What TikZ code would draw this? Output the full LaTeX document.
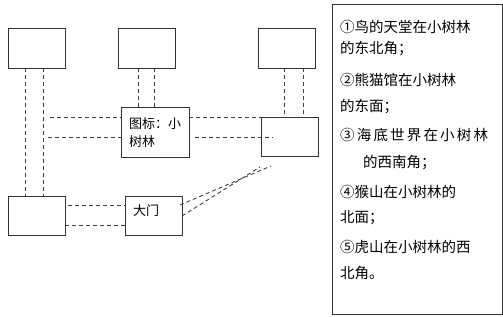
\documentclass[tikz,border=0pt]{standalone}
\usepackage{fontspec}
\newfontfamily\cjk{Noto Sans CJK SC}
\usetikzlibrary{calc}
\begin{document}
\begin{tikzpicture}[x=1pt,y=-1pt,
  box/.style={draw=black!80,line width=0.9pt,minimum width=57pt,minimum height=39pt,inner sep=0pt,outer sep=0pt},
  dline/.style={draw=black!75,line width=0.9pt,dash pattern=on 4pt off 3pt},
  txt/.style={font=\cjk\fontsize{14.5}{16}\selectfont,anchor=west,inner sep=0pt},
  btxt/.style={font=\cjk\fontsize{13}{16}\selectfont,anchor=west,inner sep=0pt}]
\useasboundingbox (0,0) rectangle (503,316);
% boxes
\node[box,minimum height=40pt] (tl) at (36.5,48) {};
\node[box,minimum height=40pt] (tm) at (146.5,48) {};
\node[box,minimum height=40pt] (tr) at (286.5,48) {};
\node[box,minimum width=68pt,minimum height=50pt] (c) at (155,132) {};
\node[box] (rm) at (289.5,136.5) {};
\node[box] (bl) at (36.5,215.5) {};
\node[box] (dm) at (153.5,215.5) {};
% box texts
\node[btxt] (ct1) at (129,124) {图标：小};
\node[btxt] (ct2) at (129,142) {树林};
\node[btxt] (dt) at (133,211) {大门};
% vertical dashed
\draw[dline] ([xshift=17pt]tl.south west) -- ([xshift=17pt]bl.north west);
\draw[dline] ([xshift=35pt]tl.south west) -- ([xshift=35pt]bl.north west);
\draw[dline] ([xshift=20pt]tm.south west) -- ([xshift=17pt]c.north west);
\draw[dline] ([xshift=36pt]tm.south west) -- ([xshift=33pt]c.north west);
\draw[dline] ([xshift=26pt]tr.south west) -- ([xshift=23pt]rm.north west);
\draw[dline] ([xshift=45pt]tr.south west) -- ([xshift=42pt]rm.north west);
% horizontal dashed
\coordinate (h1) at (50,117);
\coordinate (h2) at (48,137);
\coordinate (h3) at (195,137);
\coordinate (h4) at (273,137);
\draw[dline] (h1) -- (h1 -| c.west);
\draw[dline] (h1 -| c.east) -- (rm.north west);
\draw[dline] (h2) -- (h2 -| c.west);
\draw[dline] (h3) -- (h4);
\draw[dline] ([yshift=-9.5pt]bl.east) -- ([yshift=-9.5pt]dm.west);
\draw[dline] ([xshift=3pt,yshift=10.5pt]bl.east) -- ([yshift=10.5pt]dm.west);
% diagonals
\coordinate (d1) at (260,167);
\coordinate (d2) at (271,166);
\draw[dline] ([yshift=-0.5pt]dm.east) -- (d1);
\draw[dline] ([xshift=-2pt,yshift=10.5pt]dm.east) -- (d2);
% right panel
\node[draw=black!80,line width=0.9pt,minimum width=170pt,minimum height=310pt,inner sep=0pt] (panel) at (417,159) {};
\node[txt] (l1) at (340,27) {①鸟的天堂在小树林};
\node[txt] (l2) at (340,49) {的东北角；};
\node[txt] (l3) at (340,80) {②熊猫馆在小树林};
\node[txt] (l4) at (340,107) {的东面；};
\node[txt,font=\cjk\fontsize{14.5}{16}\selectfont\addfontfeature{LetterSpace=15}] (l5) at (340,135) {③海底世界在小树林};
\node[txt] (l6) at (363,163) {的西南角；};
\node[txt] (l7) at (340,192) {④猴山在小树林的};
\node[txt] (l8) at (340,218) {北面；};
\node[txt] (l9) at (340,247) {⑤虎山在小树林的西};
\node[txt] (l10) at (340,273) {北角。};
\end{tikzpicture}
\end{document}
